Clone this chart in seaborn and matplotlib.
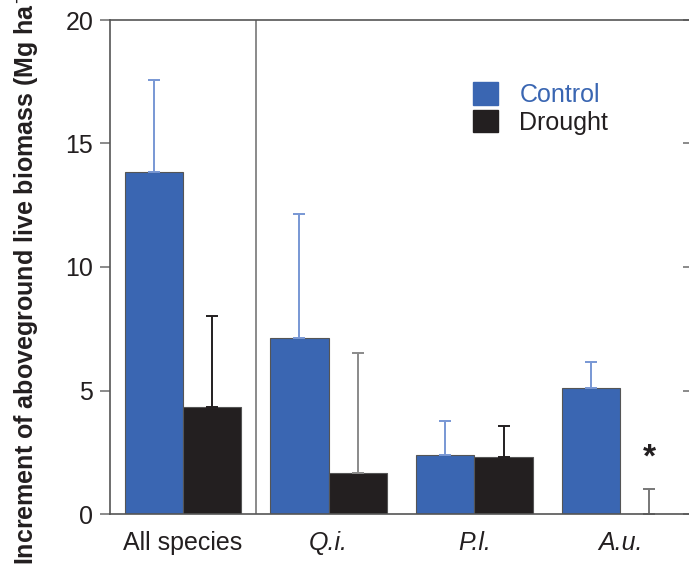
import seaborn as sns
import pandas as pd
import matplotlib.pyplot as plt

categories = ["All species", "Q.i.", "P.l.", "A.u."]
groups = ["Control", "Drought"]
control = [13.85, 7.14, 2.39, 5.09]
control_err = [3.72, 4.99, 1.39, 1.06]
drought = [4.34, 1.65, 2.31, 0.0]
drought_err = [3.69, 4.86, 1.26, 1.01]

sns.set_theme(style="white")
plt.rcParams['font.family'] = ['Liberation Sans', 'DejaVu Sans']

df = pd.DataFrame({
    "species": categories * 2,
    "treatment": [groups[0]] * 4 + [groups[1]] * 4,
    "value": control + drought,
})

fig = plt.figure(figsize=(6.89, 5.65), dpi=100)
ax = fig.add_axes([110 / 689, 51 / 565, 583 / 689, 494 / 565])

palette = {"Control": "#3a66b2", "Drought": "#231f20"}
sns.barplot(data=df, x="species", y="value", hue="treatment", palette=palette,
            width=0.8, edgecolor="#555555", linewidth=0.8, errorbar=None,
            legend=False, ax=ax, saturation=1)

# upper error bars only
err_colors = {"Control": ["#7897d4"] * 4,
              "Drought": ["#231f20", "#8a8a8a", "#231f20", "#777777"]}
for cont, vals, errs, g in zip(ax.containers, [control, drought],
                               [control_err, drought_err], groups):
    for bar, v, e, c in zip(cont, vals, errs, err_colors[g]):
        xc = bar.get_x() + bar.get_width() / 2
        ax.errorbar(xc, v, yerr=[[0], [e]], fmt="none", ecolor=c,
                    elinewidth=1.4, capsize=4, capthick=1.4, zorder=1)

ax.axvline(0.5, color="#777777", lw=1.2)
ax.text(3.2, 2.25, "*", ha="center", va="center", fontsize=24,
        fontweight="bold", color="#231f20")

ax.set_xlim(-0.5, 3.5)
ax.set_ylim(0, 20)
ax.set_yticks([0, 5, 10, 15, 20])
ax.set_xlabel("")
ax.set_ylabel("Increment of aboveground live biomass (Mg ha$^{-1}$)",
              fontsize=18, fontweight="bold", color="#231f20")
ax.yaxis.set_label_coords(-0.117, 0.5)

ax.tick_params(axis="y", which="both", left=True, right=True, direction="out",
               length=7, width=1.2, color="#777777", labelsize=18,
               labelcolor="#231f20", pad=5)
ax.tick_params(axis="x", length=0, labelsize=18, labelcolor="#231f20", pad=12)
for lab in ax.get_xticklabels()[1:]:
    lab.set_style("italic")

for s in ax.spines.values():
    s.set_color("#555555")
    s.set_linewidth(1.2)

# right ticks point inward
for t in ax.yaxis.get_major_ticks():
    t.tick2line.set_marker(0)
    t.tick2line.set_markersize(7)

handles = [plt.Rectangle((0, 0), 1, 1, color=palette[g]) for g in groups]
leg = ax.legend(handles, groups, loc="upper left", bbox_to_anchor=(0.623, 0.874),
                frameon=False, fontsize=18, handlelength=1.0, handleheight=1.0,
                handletextpad=0.85, labelspacing=0.12, borderpad=0,
                borderaxespad=0)
leg.get_texts()[0].set_color(palette["Control"])
leg.get_texts()[1].set_color("#231f20")

fig.savefig("out.png", dpi=100)
